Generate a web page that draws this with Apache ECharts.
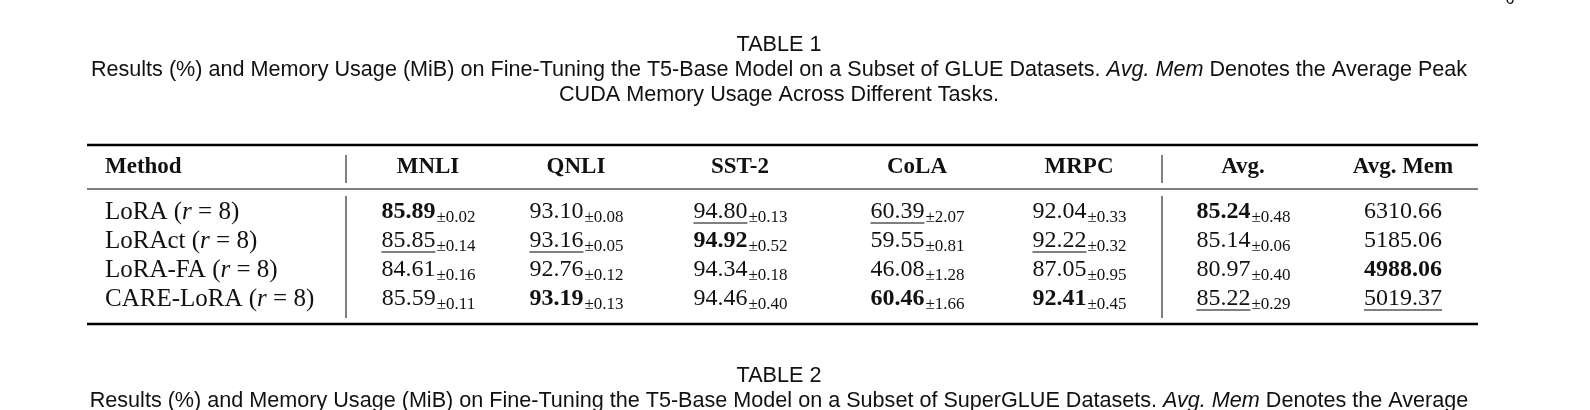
<!DOCTYPE html>
<html><head><meta charset="utf-8">
<script src="https://cdn.jsdelivr.net/npm/echarts@6/dist/echarts.min.js"></script>
<style>html,body{margin:0;background:#fff}#c{width:1590px;height:410px}</style></head>
<body><div id="c"></div>
<script>
const columns = ['MNLI','QNLI','SST-2','CoLA','MRPC','Avg.','Avg. Mem'];
const methods = ['LoRA','LoRAct','LoRA-FA','CARE-LoRA'];
const means = [
  ['85.89','93.10','94.80','60.39','92.04','85.24','6310.66'],
  ['85.85','93.16','94.92','59.55','92.22','85.14','5185.06'],
  ['84.61','92.76','94.34','46.08','87.05','80.97','4988.06'],
  ['85.59','93.19','94.46','60.46','92.41','85.22','5019.37']];
const stds = [
  ['0.02','0.08','0.13','2.07','0.33','0.48',''],
  ['0.14','0.05','0.52','0.81','0.32','0.06',''],
  ['0.16','0.12','0.18','1.28','0.95','0.40',''],
  ['0.11','0.13','0.40','1.66','0.45','0.29','']];
// b = best (bold), u = second (underline), '' = plain
const marks = [
  ['b','','u','u','','b',''],
  ['u','u','b','','u','',''],
  ['','','','','','','b'],
  ['','b','','b','b','u','u']];

const colX = [428,576,740,917,1079,1243,1403];
const rowY = [212,241,270,299];
const SERIF = '"Liberation Serif","DejaVu Serif",serif';
const SANS = '"Liberation Sans",Arial,sans-serif';
const VS = 24, SS = 17;
const cv = document.createElement('canvas').getContext('2d');
function tw(t, size, w){ cv.font=(w||'normal')+' '+size+'px '+SERIF; return cv.measureText(t).width; }

const g = [];
function txt(x,y,text,o){ g.push({type:'text',x,y,style:Object.assign({text,fill:'#111',font:VS+'px '+SERIF,textAlign:'center',textVerticalAlign:'middle'},o||{})}); }
function line(x1,y1,x2,y2,w){ g.push({type:'line',shape:{x1,y1,x2,y2},style:{stroke:'#000',lineWidth:w}}); }
const CF = '21.6px '+SANS, CFI = 'italic 21.6px '+SANS;
// captions
txt(779,45,'TABLE 1',{font:CF});
g.push({type:'text',x:779,y:70,style:{text:'{n|Results (%) and Memory Usage (MiB) on Fine-Tuning the T5-Base Model on a Subset of GLUE Datasets. }{i|Avg. Mem}{n| Denotes the Average Peak}',
  textAlign:'center',textVerticalAlign:'middle',rich:{n:{font:CF,fill:'#111'},i:{font:CFI,fill:'#111'}}}});
txt(779,95,'CUDA Memory Usage Across Different Tasks.',{font:CF});
txt(779,376,'TABLE 2',{font:CF});
g.push({type:'text',x:779,y:401,style:{text:'{n|Results (%) and Memory Usage (MiB) on Fine-Tuning the T5-Base Model on a Subset of SuperGLUE Datasets. }{i|Avg. Mem}{n| Denotes the Average}',
  textAlign:'center',textVerticalAlign:'middle',rich:{n:{font:CF,fill:'#111'},i:{font:CFI,fill:'#111'}}}});
txt(1510,0,'6',{font:'16px '+SANS});

// rules
line(87,145,1478,145,2.5);
line(87,189,1478,189,1.2);
line(87,324,1478,324,2.5);
line(346,155,346,183,1); line(1162,155,1162,183,1);
line(346,196,346,318,1); line(1162,196,1162,318,1);

// header
txt(105,167,'Method',{font:'bold 23px '+SERIF,textAlign:'left'});
columns.forEach((c,j)=>txt(colX[j],167,c,{font:'bold 23px '+SERIF}));

methods.forEach((m,i)=>{
  const y=rowY[i];
  g.push({type:'text',x:105,y,style:{text:'{n|'+m+' (}{i|r}{n| = 8)}',textAlign:'left',textVerticalAlign:'middle',
    rich:{n:{font:'25px '+SERIF,fill:'#111'},i:{font:'italic 25px '+SERIF,fill:'#111'}}}});
  columns.forEach((c,j)=>{
    const v=means[i][j], s=stds[i][j], mk=marks[i][j];
    const wt = mk==='b'?'bold':'normal';
    const vw = tw(v,VS,wt);
    const sw = s? tw('±'+s,SS):0;
    const x0 = colX[j]-(vw+sw)/2;
    txt(x0,y,v,{font:wt+' '+VS+'px '+SERIF,textAlign:'left'});
    if(s) txt(x0+vw+1,y+6,'±'+s,{font:SS+'px '+SERIF,textAlign:'left'});
    if(mk==='u') line(x0,y+11,x0+vw,y+11,1);
  });
});

const chart = echarts.init(document.getElementById('c'));
chart.setOption({animation:false,graphic:g});
</script></body></html>
